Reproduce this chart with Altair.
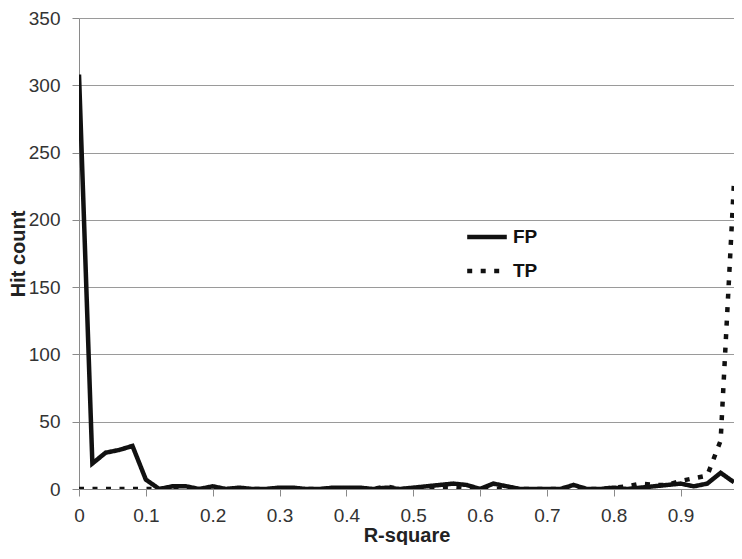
import altair as alt
import pandas as pd

r_square = [0.00, 0.02, 0.04, 0.06, 0.08, 0.10, 0.12, 0.14, 0.16, 0.18,
            0.20, 0.22, 0.24, 0.26, 0.28, 0.30, 0.32, 0.34, 0.36, 0.38,
            0.40, 0.42, 0.44, 0.46, 0.48, 0.50, 0.52, 0.54, 0.56, 0.58,
            0.60, 0.62, 0.64, 0.66, 0.68, 0.70, 0.72, 0.74, 0.76, 0.78,
            0.80, 0.82, 0.84, 0.86, 0.88, 0.90, 0.92, 0.94, 0.96, 0.98]

fp_counts = [308, 19, 27, 29, 32, 7, 0, 2, 2, 0,
             2, 0, 1, 0, 0, 1, 1, 0, 0, 1,
             1, 1, 0, 1, 0, 1, 2, 3, 4, 3,
             0, 4, 2, 0, 0, 0, 0, 3, 0, 0,
             1, 0, 1, 2, 3, 4, 2, 4, 12, 5]

tp_counts = [0, 0, 0, 0, 0, 0, 0, 0, 0, 0,
             0, 0, 0, 0, 0, 0, 0, 0, 0, 0,
             0, 0, 0, 2, 0, 0, 1, 1, 1, 0,
             0, 0, 0, 0, 0, 0, 0, 0, 0, 0,
             1, 2, 4, 3, 3, 6, 8, 10, 36, 228]

series_names = ["FP", "TP"]
x_ticks = [0, 0.1, 0.2, 0.3, 0.4, 0.5, 0.6, 0.7, 0.8, 0.9]
y_ticks = [0, 50, 100, 150, 200, 250, 300, 350]

rows = []
for x, f, t in zip(r_square, fp_counts, tp_counts):
    rows.append({"r": x, "series": "FP", "count": f})
    rows.append({"r": x, "series": "TP", "count": t})
df = pd.DataFrame(rows)

FONT = "Liberation Sans"

chart = alt.Chart(df).mark_line(strokeWidth=4.5, color="#111111", clip=True).encode(
    x=alt.X("r:Q",
            scale=alt.Scale(domain=[0, 0.98], nice=False, zero=False),
            axis=alt.Axis(values=x_ticks, format="~g", title="R-square", grid=False,
                          tickSize=7, labelPadding=10, titleBaseline="alphabetic",
                          titleY=52, labelFlush=False)),
    y=alt.Y("count:Q",
            scale=alt.Scale(domain=[0, 350], nice=False),
            axis=alt.Axis(values=y_ticks, title="Hit count", grid=True,
                          tickSize=7, labelPadding=12, titleX=-51)),
    strokeDash=alt.StrokeDash("series:N",
                              scale=alt.Scale(domain=series_names, range=[[1, 0], [5, 8.5]]),
                              legend=alt.Legend(title=None, orient="none", legendX=389, legendY=200,
                                                symbolType="M-1.2,0L1.2,0", symbolSize=1089,
                                                symbolStrokeWidth=4.5, symbolStrokeColor="#111111",
                                                labelFont=FONT, labelFontSize=19, labelFontWeight="bold",
                                                labelColor="#111111", labelOffset=7, rowPadding=5,
                                                padding=0)),
    detail="series:N",
).properties(
    width=655,
    height=471,
    autosize=alt.AutoSizeParams(type="none"),
    padding={"left": 71, "top": 10, "right": 0, "bottom": 56},
).configure_view(
    stroke=None
).configure_axis(
    labelFont=FONT, labelFontSize=19, labelColor="#333333",
    titleFont=FONT, titleFontSize=20, titleFontWeight="bold", titleColor="#222222",
    domainColor="#8a8a8a", tickColor="#8a8a8a", gridColor="#9a9a9a",
    domainWidth=1, tickWidth=1, gridWidth=1.2,
)

chart.save("out.html", embed_options={"renderer": "svg", "actions": False})
